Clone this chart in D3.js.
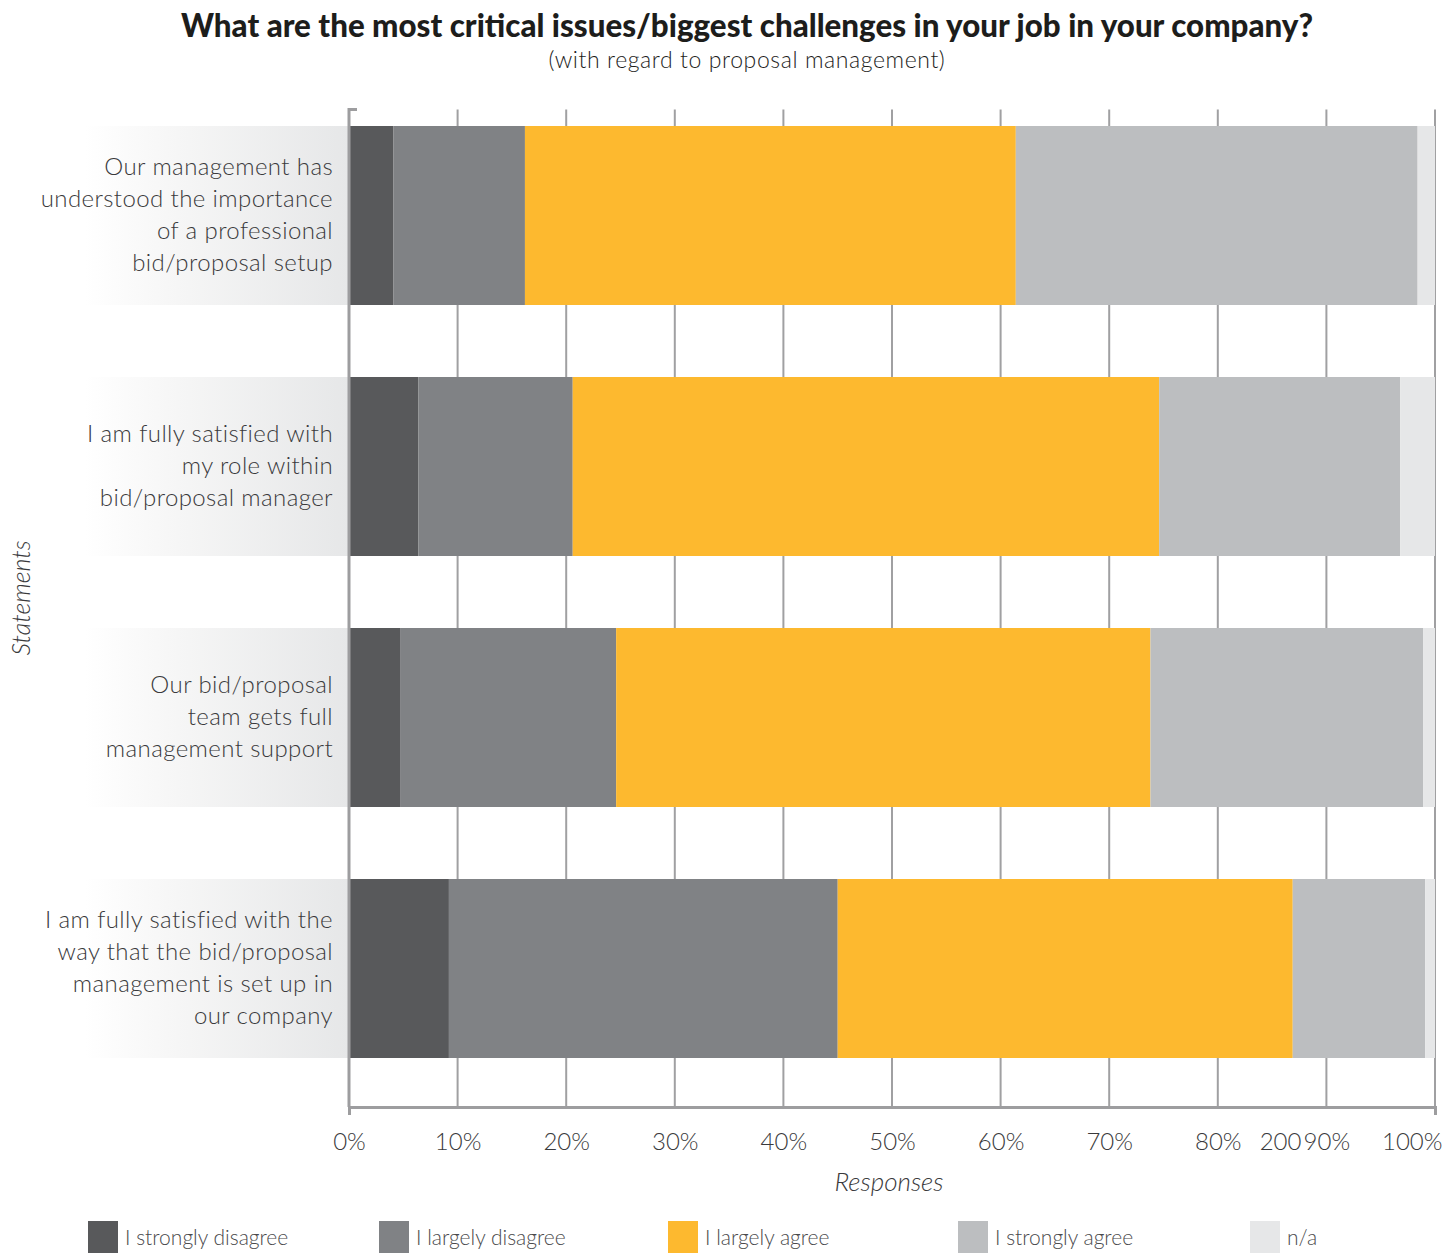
<!DOCTYPE html>
<html>
<head>
<meta charset="utf-8">
<script src="https://cdn.jsdelivr.net/npm/d3@7"></script>
<style>
  body { margin: 0; background: #fff; }
  svg { display: block; }
  text { font-family: Lato, "Open Sans", sans-serif; }
</style>
</head>
<body>
<svg id="chart" width="1456" height="1253"></svg>
<script>
// Survey statements (one array entry per bar, split into display lines)
const statements = [
  ["Our management has", "understood the importance", "of a professional", "bid/proposal setup"],
  ["I am fully satisfied with", "my role within", "bid/proposal manager"],
  ["Our bid/proposal", "team gets full", "management support"],
  ["I am fully satisfied with the", "way that the bid/proposal", "management is set up in", "our company"]
];

// Response categories, in stacking order
const responseLevels = ["I strongly disagree", "I largely disagree", "I largely agree", "I strongly agree", "n/a"];

// Share of responses (%) per statement
const stronglyDisagree = [4.1, 6.4, 4.7, 9.2];
const largelyDisagree  = [12.1, 14.2, 19.9, 35.8];
const largelyAgree     = [45.2, 54.0, 49.2, 41.9];
const stronglyAgree    = [37.0, 22.2, 25.1, 12.2];
const notApplicable    = [1.6, 3.2, 1.1, 0.9];

// Axis ticks
const tickValues = [0, 10, 20, 30, 40, 50, 60, 70, 80, 90, 100];
const tickLabels = ["0%", "10%", "20%", "30%", "40%", "50%", "60%", "70%", "80%", "90%", "100%"];
const strayTickText = "200";

const levelColors = ["#58595b", "#808285", "#fdb92f", "#bcbec0", "#e6e7e8"];

const series = [stronglyDisagree, largelyDisagree, largelyAgree, stronglyAgree, notApplicable];
const rows = statements.map((s, i) => {
  const r = { idx: i };
  responseLevels.forEach((lvl, j) => { r[lvl] = series[j][i]; });
  return r;
});

const svg = d3.select("#chart");

const x = d3.scaleLinear().domain([0, 100]).range([349, 1435]);
const y = d3.scaleBand()
  .domain(d3.range(statements.length))
  .range([126, 1058])
  .paddingInner(72 / 251)
  .paddingOuter(0);
const color = d3.scaleOrdinal().domain(responseLevels).range(levelColors);

const axisTop = 109.5, axisBottom = 1107;
const textColor = "#3a3a3c";

// Gradient behind the statement labels
const defs = svg.append("defs");
const grad = defs.append("linearGradient").attr("id", "labelFade")
  .attr("x1", "0%").attr("x2", "100%").attr("y1", "0%").attr("y2", "0%");
grad.append("stop").attr("offset", "0%").attr("stop-color", "#ffffff");
grad.append("stop").attr("offset", "35%").attr("stop-color", "#f6f6f6");
grad.append("stop").attr("offset", "100%").attr("stop-color", "#e6e7e8");

svg.append("g").selectAll("rect")
  .data(d3.range(statements.length))
  .join("rect")
  .attr("x", 85)
  .attr("y", d => y(d))
  .attr("width", x(0) - 85)
  .attr("height", y.bandwidth())
  .attr("fill", "url(#labelFade)");

// Vertical gridlines
svg.append("g").selectAll("line")
  .data(tickValues.slice(1))
  .join("line")
  .attr("x1", d => x(d)).attr("x2", d => x(d))
  .attr("y1", axisTop).attr("y2", axisBottom)
  .attr("stroke", "#a0a0a2")
  .attr("stroke-width", 2);

// Stacked bars
const stacked = d3.stack().keys(responseLevels)(rows);

svg.append("g").selectAll("g")
  .data(stacked)
  .join("g")
  .attr("fill", d => color(d.key))
  .selectAll("rect")
  .data(d => d)
  .join("rect")
  .attr("x", d => x(d[0]))
  .attr("y", d => y(d.data.idx))
  .attr("width", d => x(d[1]) - x(d[0]))
  .attr("height", y.bandwidth());

// Statement labels
const labelG = svg.append("g");
statements.forEach((lines, i) => {
  const cy = y(i) + y.bandwidth() / 2;
  const lh = 32;
  const t = labelG.append("text")
    .attr("text-anchor", "end")
    .attr("font-size", 24)
    .attr("font-weight", 300)
    .attr("letter-spacing", 0.4)
    .attr("fill", textColor);
  lines.forEach((ln, k) => {
    t.append("tspan")
      .attr("x", 333)
      .attr("y", cy + (k - (lines.length - 1) / 2) * lh + 7)
      .text(ln);
  });
});

// Left axis line with top bracket
svg.append("path")
  .attr("d", `M357,${axisTop}H349V${axisBottom}`)
  .attr("fill", "none")
  .attr("stroke", "#9d9d9f")
  .attr("stroke-width", 3);

// Bottom axis
const xAxis = d3.axisBottom(x)
  .tickValues(tickValues)
  .tickFormat((d, i) => tickLabels[i])
  .tickSizeInner(0)
  .tickSizeOuter(8)
  .tickPadding(0);

const gx = svg.append("g")
  .attr("transform", `translate(0,${axisBottom})`)
  .call(xAxis);
gx.select(".domain").attr("stroke", "#9d9d9f").attr("stroke-width", 3);
gx.selectAll(".tick line").remove();
gx.selectAll(".tick text")
  .attr("y", 43)
  .attr("dy", null)
  .attr("font-family", "Lato, sans-serif")
  .attr("font-size", 24)
  .attr("font-weight", 300)
  .attr("fill", textColor)
  .attr("text-anchor", (d, i) => i === tickValues.length - 1 ? "end" : "middle")
  .attr("dx", (d, i) => i === tickValues.length - 1 ? 7 : 0);

gx.append("text")
  .attr("x", x(90) - 25)
  .attr("y", 43)
  .attr("text-anchor", "end")
  .attr("font-size", 24)
  .attr("font-weight", 300)
  .attr("fill", textColor)
  .text(strayTickText);

// Axis titles
svg.append("text")
  .attr("x", 889).attr("y", 1191)
  .attr("text-anchor", "middle")
  .attr("font-size", 26)
  .attr("font-weight", 300)
  .attr("font-style", "italic")
  .attr("fill", textColor)
  .text("Responses");

svg.append("text")
  .attr("transform", "translate(30,598) rotate(-90)")
  .attr("text-anchor", "middle")
  .attr("font-size", 25)
  .attr("font-weight", 300)
  .attr("font-style", "italic")
  .attr("fill", textColor)
  .text("Statements");

// Title and subtitle
svg.append("text")
  .attr("x", 747).attr("y", 37)
  .attr("text-anchor", "middle")
  .attr("font-size", 32)
  .attr("font-weight", 900)
  .attr("fill", "#1d1d1b")
  .attr("textLength", 1132)
  .attr("lengthAdjust", "spacingAndGlyphs")
  .text("What are the most critical issues/biggest challenges in your job in your company?");

svg.append("text")
  .attr("x", 747).attr("y", 68)
  .attr("text-anchor", "middle")
  .attr("font-size", 23)
  .attr("font-weight", 300)
  .attr("letter-spacing", 0.6)
  .attr("fill", "#1d1d1b")
  .text("(with regard to proposal management)");

// Legend
const legendX = [88, 379, 668, 958, 1250];
const legend = svg.append("g").selectAll("g")
  .data(responseLevels)
  .join("g")
  .attr("transform", (d, i) => `translate(${legendX[i]},1221)`);
legend.append("rect")
  .attr("width", 30).attr("height", 32)
  .attr("fill", d => color(d));
legend.append("text")
  .attr("x", 37).attr("y", 24)
  .attr("font-size", 21)
  .attr("font-weight", 300)
  .attr("fill", "#4a4a4c")
  .text(d => d);
</script>
</body>
</html>
